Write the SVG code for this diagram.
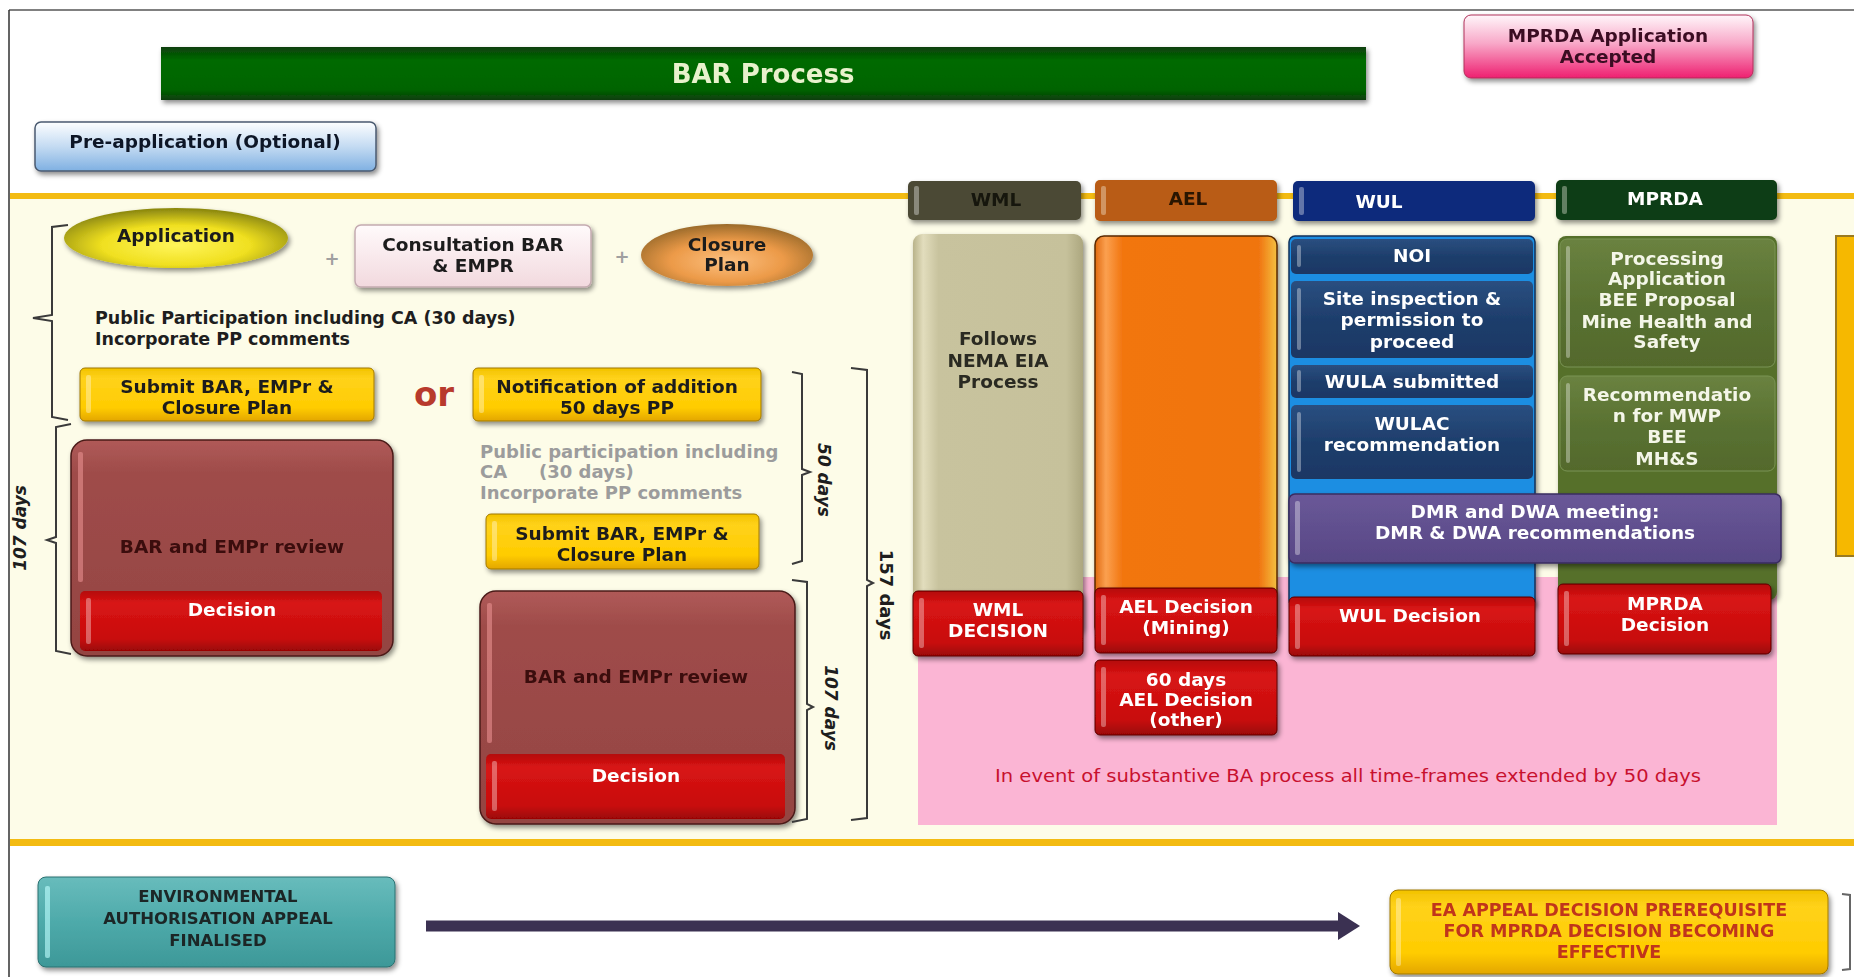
<svg xmlns="http://www.w3.org/2000/svg" width="1854" height="977" viewBox="0 0 1854 977">
<defs>
<style>
text{font-family:"DejaVu Sans","Liberation Sans",sans-serif;font-weight:bold;font-size:18.5px;text-anchor:middle}
.d{fill:#1e1e1e}
.w{fill:#ffffff}
.lt{text-anchor:start}
.g{fill:#9c9c9c;text-anchor:start;font-size:18px}
.br{fill:none;stroke:#3a3a3a;stroke-width:2}
.hl{fill:#ffffff;opacity:0.35}
.bd{stroke:#5a0000;stroke-width:1}
.dy{fill:#1e1e1e;font-size:17px;font-style:italic}
</style>
<filter id="sh" x="-10%" y="-10%" width="125%" height="135%"><feDropShadow dx="2" dy="3" stdDeviation="2.5" flood-color="#000" flood-opacity="0.45"/></filter>
<linearGradient id="gGreen" x1="0" y1="0" x2="0" y2="1"><stop offset="0" stop-color="#0b3f0b"/><stop offset="0.25" stop-color="#006a00"/><stop offset="0.8" stop-color="#006400"/><stop offset="1" stop-color="#0c3d0c"/></linearGradient>
<linearGradient id="gPink" x1="0" y1="0" x2="0" y2="1"><stop offset="0" stop-color="#fff6fa"/><stop offset="0.45" stop-color="#f8a8c8"/><stop offset="1" stop-color="#ee1f70"/></linearGradient>
<linearGradient id="gBlue" x1="0" y1="0" x2="0" y2="1"><stop offset="0" stop-color="#fdfeff"/><stop offset="0.5" stop-color="#c4dbf2"/><stop offset="1" stop-color="#7fb0e2"/></linearGradient>
<linearGradient id="gYel" x1="0" y1="0" x2="0" y2="1"><stop offset="0" stop-color="#f2c200"/><stop offset="0.2" stop-color="#ffd21a"/><stop offset="0.75" stop-color="#ffcc00"/><stop offset="1" stop-color="#e3a600"/></linearGradient>
<linearGradient id="gRed" x1="0" y1="0" x2="0" y2="1"><stop offset="0" stop-color="#b40a0a"/><stop offset="0.2" stop-color="#d81414"/><stop offset="0.8" stop-color="#c80d0d"/><stop offset="1" stop-color="#9a0606"/></linearGradient>
<linearGradient id="gBrown" x1="0" y1="0" x2="0" y2="1"><stop offset="0" stop-color="#b05a58"/><stop offset="0.15" stop-color="#9f4c4a"/><stop offset="1" stop-color="#944442"/></linearGradient>
<linearGradient id="gTeal" x1="0" y1="0" x2="0" y2="1"><stop offset="0" stop-color="#68bcbc"/><stop offset="0.5" stop-color="#4eaaaa"/><stop offset="1" stop-color="#3d9898"/></linearGradient>
<linearGradient id="gCons" x1="0" y1="0" x2="0" y2="1"><stop offset="0" stop-color="#fffafb"/><stop offset="1" stop-color="#f2d9de"/></linearGradient>
<linearGradient id="gTan" x1="0" y1="0" x2="1" y2="0"><stop offset="0" stop-color="#b9b38a"/><stop offset="0.06" stop-color="#e2ddbd"/><stop offset="0.15" stop-color="#c8c39e"/><stop offset="0.9" stop-color="#c6c19b"/><stop offset="1" stop-color="#aca77f"/></linearGradient>
<linearGradient id="gOrange" x1="0" y1="0" x2="1" y2="0"><stop offset="0" stop-color="#e06a10"/><stop offset="0.06" stop-color="#fba050"/><stop offset="0.15" stop-color="#f2760f"/><stop offset="0.9" stop-color="#f07410"/><stop offset="1" stop-color="#f4c040"/></linearGradient>
<linearGradient id="gNavy" x1="0" y1="0" x2="0" y2="1"><stop offset="0" stop-color="#2a4f80"/><stop offset="0.5" stop-color="#1e3e6c"/><stop offset="1" stop-color="#1a3764"/></linearGradient>
<linearGradient id="gOlive" x1="0" y1="0" x2="0" y2="1"><stop offset="0" stop-color="#6a8240"/><stop offset="0.5" stop-color="#5a7232"/><stop offset="1" stop-color="#53692c"/></linearGradient>
<linearGradient id="gPurple" x1="0" y1="0" x2="0" y2="1"><stop offset="0" stop-color="#6a5898"/><stop offset="1" stop-color="#574785"/></linearGradient>
<radialGradient id="gAppl" cx="0.5" cy="0.62" r="0.6"><stop offset="0" stop-color="#fff55a"/><stop offset="0.55" stop-color="#f0e020"/><stop offset="1" stop-color="#8e8a10"/></radialGradient>
<radialGradient id="gClos" cx="0.5" cy="0.6" r="0.6"><stop offset="0" stop-color="#fcc080"/><stop offset="0.55" stop-color="#ec9a48"/><stop offset="1" stop-color="#9a6a2a"/></radialGradient>
</defs>

<rect x="0" y="0" width="1854" height="977" fill="#ffffff"/>
<rect x="10" y="196" width="1844" height="646" fill="#fdfce8"/>
<line x1="9" y1="10" x2="1854" y2="10" stroke="#808080" stroke-width="2"/>
<line x1="9" y1="10" x2="9" y2="977" stroke="#303030" stroke-width="1.5"/>
<rect x="10" y="193" width="1844" height="6" fill="#f3bb12"/>
<rect x="10" y="839" width="1844" height="7" fill="#f3bb12"/>

<g id="pink-region">
<rect x="918" y="577" width="859" height="248" fill="#fbb5d4"/>
<text x="1348" y="782" textLength="706" lengthAdjust="spacingAndGlyphs" style="fill:#c8102e;font-size:17px;font-weight:normal">In event of substantive BA process all time-frames extended by 50 days</text>
</g>

<g id="bar-process" filter="url(#sh)">
<rect x="161" y="47" width="1205" height="53" fill="url(#gGreen)"/>
<text x="763" y="83" style="fill:#e8f2cc;font-size:26px">BAR Process</text>
</g>

<g id="mprda-accepted" filter="url(#sh)">
<rect x="1464" y="15" width="289" height="63" rx="7" fill="url(#gPink)" stroke="#b0305a" stroke-width="1"/>
<text x="1608" y="42" style="fill:#3a0b22">MPRDA Application</text>
<text x="1608" y="63" style="fill:#3a0b22">Accepted</text>
</g>

<g id="pre-application" filter="url(#sh)">
<rect x="35" y="122" width="341" height="49" rx="6" fill="url(#gBlue)" stroke="#4a5a70" stroke-width="1.5"/>
<text x="205" y="148" style="fill:#101828">Pre-application (Optional)</text>
</g>

<g id="tab-wml" filter="url(#sh)">
<rect x="908" y="181" width="173" height="39" rx="5" fill="#4c4a36"/>
<rect x="914" y="186" width="5" height="29" rx="2" class="hl"/>
<text x="996" y="206" style="fill:#15150c">WML</text>
</g>
<g id="tab-ael" filter="url(#sh)">
<rect x="1095" y="180" width="182" height="41" rx="5" fill="#b95c12"/>
<rect x="1101" y="186" width="5" height="29" rx="2" class="hl"/>
<text x="1188" y="205" style="fill:#2a1204">AEL</text>
</g>
<g id="tab-wul" filter="url(#sh)">
<rect x="1293" y="181" width="242" height="40" rx="5" fill="#0e2a7c"/>
<rect x="1299" y="187" width="5" height="28" rx="2" class="hl"/>
<text x="1379" y="208" class="w">WUL</text>
</g>
<g id="tab-mprda" filter="url(#sh)">
<rect x="1556" y="180" width="221" height="40" rx="5" fill="#0f3c12"/>
<rect x="1562" y="186" width="5" height="28" rx="2" class="hl"/>
<text x="1665" y="205" class="w">MPRDA</text>
</g>

<g id="wml-column" filter="url(#sh)">
<rect x="913" y="234" width="170" height="400" rx="9" fill="url(#gTan)"/>
<text x="998" y="345" style="fill:#2a2a20">Follows</text>
<text x="998" y="367" style="fill:#2a2a20">NEMA EIA</text>
<text x="998" y="388" style="fill:#2a2a20">Process</text>
</g>
<g id="wml-decision" filter="url(#sh)">
<rect x="913" y="591" width="170" height="65" rx="5" fill="url(#gRed)" class="bd"/>
<rect x="919" y="598" width="5" height="50" rx="2" class="hl"/>
<text x="998" y="616" class="w">WML</text>
<text x="998" y="637" class="w">DECISION</text>
</g>

<g id="ael-column" filter="url(#sh)">
<rect x="1095" y="236" width="182" height="400" rx="9" fill="url(#gOrange)" stroke="#5a2a00" stroke-width="1.5"/>
</g>
<g id="ael-decision-mining" filter="url(#sh)">
<rect x="1095" y="588" width="182" height="65" rx="5" fill="url(#gRed)" class="bd"/>
<rect x="1101" y="595" width="5" height="50" rx="2" class="hl"/>
<text x="1186" y="613" class="w">AEL Decision</text>
<text x="1186" y="634" class="w">(Mining)</text>
</g>
<g id="ael-decision-other" filter="url(#sh)">
<rect x="1095" y="660" width="182" height="75" rx="5" fill="url(#gRed)" class="bd"/>
<rect x="1101" y="667" width="5" height="60" rx="2" class="hl"/>
<text x="1186" y="686" class="w">60 days</text>
<text x="1186" y="706" class="w">AEL Decision</text>
<text x="1186" y="726" class="w">(other)</text>
</g>

<g id="wul-column" filter="url(#sh)">
<rect x="1289" y="236" width="246" height="370" rx="6" fill="#1c8ee2" stroke="#10305a" stroke-width="1.5"/>
<rect x="1291" y="239" width="242" height="35" rx="5" fill="url(#gNavy)"/>
<rect x="1291" y="281" width="242" height="77" rx="5" fill="url(#gNavy)"/>
<rect x="1291" y="365" width="242" height="33" rx="5" fill="url(#gNavy)"/>
<rect x="1291" y="405" width="242" height="74" rx="5" fill="url(#gNavy)"/>
<rect x="1297" y="245" width="4" height="22" rx="2" class="hl"/>
<rect x="1297" y="288" width="4" height="62" rx="2" class="hl"/>
<rect x="1297" y="370" width="4" height="22" rx="2" class="hl"/>
<rect x="1297" y="412" width="4" height="60" rx="2" class="hl"/>
<text x="1412" y="262" class="w">NOI</text>
<text x="1412" y="305" class="w">Site inspection &amp;</text>
<text x="1412" y="326" class="w">permission to</text>
<text x="1412" y="348" class="w">proceed</text>
<text x="1412" y="388" class="w">WULA submitted</text>
<text x="1412" y="430" class="w">WULAC</text>
<text x="1412" y="451" class="w">recommendation</text>
</g>
<g id="wul-decision" filter="url(#sh)">
<rect x="1289" y="597" width="246" height="59" rx="5" fill="url(#gRed)" class="bd"/>
<rect x="1295" y="604" width="5" height="45" rx="2" class="hl"/>
<text x="1410" y="622" class="w">WUL Decision</text>
</g>

<g id="mprda-column" filter="url(#sh)">
<rect x="1558" y="236" width="219" height="364" rx="8" fill="#56702c"/>
<rect x="1560" y="239" width="215" height="128" rx="7" fill="url(#gOlive)" stroke="#7a9452" stroke-width="1"/>
<rect x="1560" y="376" width="215" height="95" rx="7" fill="url(#gOlive)" stroke="#7a9452" stroke-width="1"/>
<rect x="1566" y="246" width="4" height="112" rx="2" class="hl"/>
<rect x="1566" y="383" width="4" height="80" rx="2" class="hl"/>
<g style="fill:#f4f6e8">
<text x="1667" y="265">Processing</text>
<text x="1667" y="285">Application</text>
<text x="1667" y="306">BEE Proposal</text>
<text x="1667" y="328">Mine Health and</text>
<text x="1667" y="348">Safety</text>
<text x="1667" y="401">Recommendatio</text>
<text x="1667" y="422">n for MWP</text>
<text x="1667" y="443">BEE</text>
<text x="1667" y="465">MH&amp;S</text>
</g>
</g>
<g id="mprda-decision" filter="url(#sh)">
<rect x="1558" y="584" width="213" height="70" rx="5" fill="url(#gRed)" class="bd"/>
<rect x="1564" y="591" width="5" height="55" rx="2" class="hl"/>
<text x="1665" y="610" class="w">MPRDA</text>
<text x="1665" y="631" class="w">Decision</text>
</g>

<g id="dmr-dwa-meeting" filter="url(#sh)">
<rect x="1289" y="494" width="492" height="69" rx="6" fill="url(#gPurple)" stroke="#3a2c60" stroke-width="1.5"/>
<rect x="1295" y="501" width="5" height="54" rx="2" class="hl"/>
<text x="1535" y="518" class="w">DMR and DWA meeting:</text>
<text x="1535" y="539" class="w">DMR &amp; DWA recommendations</text>
</g>

<g id="right-bar">
<rect x="1836" y="236" width="20" height="320" fill="#f6b800" stroke="#9a7a20" stroke-width="2"/>
</g>

<g id="application" filter="url(#sh)">
<ellipse cx="176" cy="238" rx="112" ry="30" fill="url(#gAppl)"/>
<text x="176" y="242" class="d">Application</text>
</g>
<text x="332" y="265" style="fill:#a0a0a0;font-size:18px">+</text>
<g id="consultation" filter="url(#sh)">
<rect x="355" y="225" width="236" height="62" rx="6" fill="url(#gCons)" stroke="#c4aab0" stroke-width="1.5"/>
<text x="473" y="251" class="d">Consultation BAR</text>
<text x="473" y="272" class="d">&amp; EMPR</text>
</g>
<text x="622" y="263" style="fill:#a0a0a0;font-size:18px">+</text>
<g id="closure-plan" filter="url(#sh)">
<ellipse cx="727" cy="255" rx="86" ry="31" fill="url(#gClos)"/>
<text x="727" y="251" class="d">Closure</text>
<text x="727" y="271" class="d">Plan</text>
</g>

<g id="pp-text">
<text x="95" y="324" class="d lt" style="font-size:17.5px">Public Participation including CA (30 days)</text>
<text x="95" y="345" class="d lt" style="font-size:17.5px">Incorporate PP comments</text>
</g>

<g id="submit-left" filter="url(#sh)">
<rect x="80" y="368" width="294" height="53" rx="5" fill="url(#gYel)" stroke="#a07800" stroke-width="1"/>
<rect x="86" y="375" width="5" height="38" rx="2" class="hl"/>
<text x="227" y="393" class="d">Submit BAR, EMPr &amp;</text>
<text x="227" y="414" class="d">Closure Plan</text>
</g>
<text x="434" y="406" style="fill:#b83a2c;font-size:34px">or</text>
<g id="notification" filter="url(#sh)">
<rect x="473" y="368" width="288" height="53" rx="5" fill="url(#gYel)" stroke="#a07800" stroke-width="1"/>
<rect x="479" y="375" width="5" height="38" rx="2" class="hl"/>
<text x="617" y="393" class="d">Notification of addition</text>
<text x="617" y="414" class="d">50 days PP</text>
</g>

<g id="pp-gray">
<text x="480" y="458" class="g">Public participation including</text>
<text x="480" y="478" class="g">CA</text>
<text x="539" y="478" class="g">(30 days)</text>
<text x="480" y="499" class="g">Incorporate PP comments</text>
</g>

<g id="submit-right" filter="url(#sh)">
<rect x="486" y="514" width="273" height="55" rx="5" fill="url(#gYel)" stroke="#a07800" stroke-width="1"/>
<rect x="492" y="521" width="5" height="40" rx="2" class="hl"/>
<text x="622" y="540" class="d">Submit BAR, EMPr &amp;</text>
<text x="622" y="561" class="d">Closure Plan</text>
</g>

<g id="review-left" filter="url(#sh)">
<rect x="71" y="440" width="322" height="216" rx="16" fill="url(#gBrown)" stroke="#4a1a18" stroke-width="1.5"/>
<rect x="78" y="452" width="5" height="130" rx="2" fill="#e89090" opacity="0.6"/>
<text x="232" y="553" style="fill:#3a0e0e">BAR and EMPr review</text>
<rect x="80" y="591" width="302" height="60" rx="5" fill="url(#gRed)"/>
<rect x="86" y="598" width="5" height="46" rx="2" class="hl"/>
<text x="232" y="616" class="w">Decision</text>
</g>

<g id="review-right" filter="url(#sh)">
<rect x="480" y="591" width="315" height="233" rx="16" fill="url(#gBrown)" stroke="#4a1a18" stroke-width="1.5"/>
<rect x="487" y="603" width="5" height="140" rx="2" fill="#e89090" opacity="0.6"/>
<text x="636" y="683" style="fill:#3a0e0e">BAR and EMPr review</text>
<rect x="486" y="754" width="299" height="65" rx="5" fill="url(#gRed)"/>
<rect x="492" y="761" width="5" height="50" rx="2" class="hl"/>
<text x="636" y="782" class="w">Decision</text>
</g>

<g id="brackets">
<path class="br" d="M68 225 L52 227 L52 315 L33 318 L52 321 L52 417 L68 420"/>
<path class="br" d="M71 424 L56 427 L56 537 L47 540 L56 543 L56 651 L71 654"/>
<text transform="translate(26 528) rotate(-90)" class="dy">107 days</text>
<path class="br" d="M792 372 L802 374 L802 469 L810 472 L802 475 L802 561 L792 564"/>
<text transform="translate(818 480) rotate(90)" class="dy">50 days</text>
<path class="br" d="M792 580 L807 582 L807 704 L813 707 L807 710 L807 819 L792 822"/>
<text transform="translate(825 708) rotate(90)" class="dy">107 days</text>
<path class="br" d="M851 368 L867 370 L867 580 L873 583 L867 586 L867 818 L851 820"/>
<text transform="translate(880 595) rotate(90)" style="fill:#1e1e1e;font-size:18px">157 days</text>
<path class="br" d="M1842 894 L1850 895 L1850 969 L1842 970" style="stroke:#666"/>
</g>

<g id="env-appeal" filter="url(#sh)">
<rect x="38" y="877" width="357" height="90" rx="8" fill="url(#gTeal)" stroke="#2a7070" stroke-width="1"/>
<rect x="45" y="886" width="5" height="72" rx="2" fill="#c0ffff" opacity="0.6"/>
<text x="218" y="902" style="fill:#1a2626;font-size:16.5px">ENVIRONMENTAL</text>
<text x="218" y="924" style="fill:#1a2626;font-size:16.5px">AUTHORISATION APPEAL</text>
<text x="218" y="946" style="fill:#1a2626;font-size:16.5px">FINALISED</text>
</g>

<g id="connectors">
<line x1="426" y1="926" x2="1342" y2="926" stroke="#3b3152" stroke-width="11"/>
<polygon points="1338,912 1360,926 1338,940" fill="#3b3152"/>
</g>

<g id="ea-appeal-decision" filter="url(#sh)">
<rect x="1390" y="890" width="438" height="84" rx="8" fill="url(#gYel)" stroke="#a07800" stroke-width="1"/>
<rect x="1396" y="898" width="5" height="68" rx="2" class="hl"/>
<text x="1609" y="916" style="fill:#c0341a;font-size:17.5px">EA APPEAL DECISION PREREQUISITE</text>
<text x="1609" y="937" style="fill:#c0341a;font-size:17.5px">FOR MPRDA DECISION BECOMING</text>
<text x="1609" y="958" style="fill:#c0341a;font-size:17.5px">EFFECTIVE</text>
</g>
</svg>
